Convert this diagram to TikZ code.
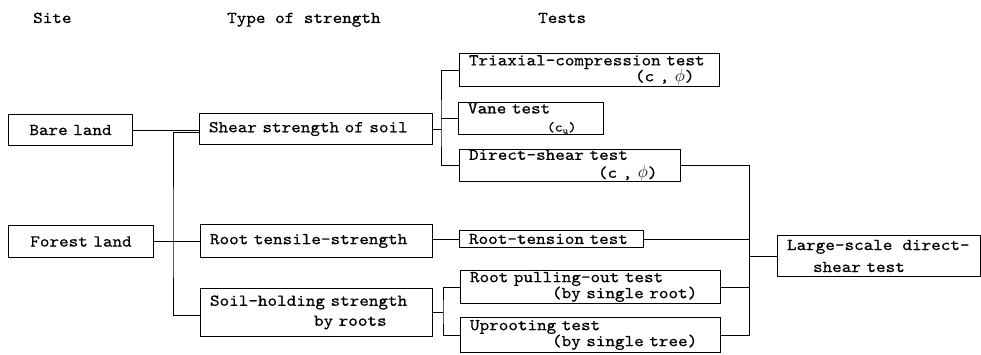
\documentclass[tikz,border=0pt]{standalone}
\usepackage{fontspec}
\usepackage{tikz}
\usetikzlibrary{calc,positioning}
\newfontfamily\typer[FakeStretch=1.1,FakeBold=0.5]{lmmono10-regular.otf}
\newcommand\boxfont{\typer\fontsize{16.6}{16}\selectfont}
\newcommand\smallbox{\typer\fontsize{13.5}{12}\selectfont}

\tikzset{
  box/.style={draw, line width=1pt, anchor=north west, inner xsep=9.5pt, inner ysep=0pt,
    align=left, font=\boxfont},
  head/.style={anchor=base west, inner sep=0pt, font=\boxfont},
  conn/.style={line width=0.9pt},
}

\begin{document}
\begin{tikzpicture}[x=1pt,y=-1pt]
    \useasboundingbox (0,0) rectangle (981,355);
    % column heads
    \node[head] (hsite) at (33,23) {Site};
    \node[head] (htype) at (227,23) {Type of strength};
    \node[head] (htest) at (538,23) {Tests};

    % site
    \node[box, align=center, text width=105pt, minimum height=31pt] (bare) at (8,114) {Bare land};
    \node[box, align=center, text width=126pt, minimum height=32pt] (forest) at (8,225) {Forest land};

    % type of strength
    \node[box, text width=214pt, minimum height=31pt] (shear) at (199,113) {Shear strength of soil};
    \node[box, text width=213pt, minimum height=33pt] (roottens) at (200,224) {Root tensile-strength};
    \node[box, text width=213pt, minimum height=48pt] (soilhold) at (200,288)
        {Soil-holding strength\\[4pt]\hspace*{104pt}by roots};

    % tests
    \node[box, text width=241pt, minimum height=33pt] (tri) at (459,53)
        {Triaxial-compression test\\\hspace*{166pt}(c , $\phi$)};
    \node[box, text width=126pt, minimum height=32pt] (vane) at (458,102)
        {Vane test\\[2pt]\hspace*{79pt}{\smallbox(c\textsubscript{u})}};
    \node[box, text width=202pt, minimum height=32pt] (direct) at (459,149)
        {Direct-shear test\\[2pt]\hspace*{129pt}(c , $\phi$)};
    \node[box, text width=165pt, minimum height=17pt] (roottest) at (459,230) {Root-tension test};
    \node[box, text width=241pt, minimum height=33pt] (pull) at (460,270)
        {Root pulling-out test\\\hspace*{82pt}(by single root)};
    \node[box, text width=241pt, minimum height=35pt] (uproot) at (460,317)
        {Uprooting test\\\hspace*{82pt}(by single tree)};

    \node[box, text width=184pt, minimum height=41pt] (large) at (777,235)
        {Large-scale\hspace*{10pt}direct-\\[6pt]\hspace*{26pt}shear test};

    % site to strength
    \coordinate (fj) at (173,241);
    \draw[conn] (bare.east) -- (bare.east -| shear.west);
    \draw[conn] (forest.east) -- (forest.east -| roottens.west);
    \draw[conn] ([yshift=-3.5pt]shear.west) -| (fj) |- ([yshift=-3pt]soilhold.west);

    % strength to tests
    \draw[conn] (shear.east) -- ++(8,0) coordinate (sj);
    \draw[conn] (tri.west) -| (sj) |- (direct.west);
    \draw[conn] (vane.west) -- (vane.west -| sj);
    \draw[conn] (roottest.west -| roottens.east) -- (roottest.west);
    \draw[conn] (soilhold.east) -- ++(10,0) coordinate (hj);
    \draw[conn] (pull.west) -| (hj) |- (uproot.west);

    % tests to large-scale test
    \draw[conn] (large.west) -- ++(-28,0) coordinate (cj);
    \draw[conn] (direct.east) -| (cj) |- (uproot.east);
    \draw[conn] (roottest.east) -- (roottest.east -| cj);
    \draw[conn] (pull.east) -- (pull.east -| cj);
\end{tikzpicture}
\end{document}
